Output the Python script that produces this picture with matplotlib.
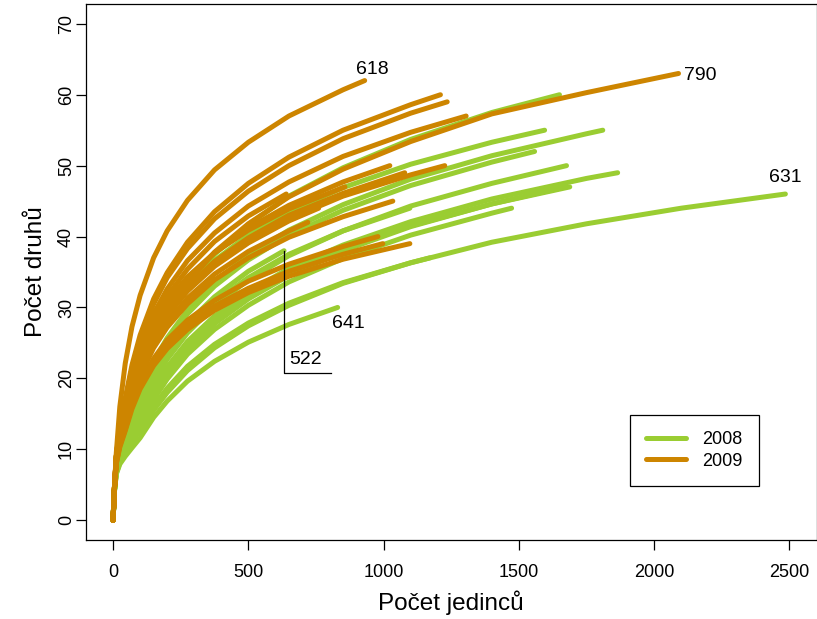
import matplotlib
matplotlib.use("Agg")
import matplotlib.pyplot as plt

plt.rcParams['font.family'] = ['Liberation Sans', 'DejaVu Sans']

grid = [0, 5, 12, 25, 45, 70, 100, 150, 200, 275, 375, 500, 650, 850,
        1100, 1400, 1750, 2100]

# 2008 samples: end point (individuals, species) + species at grid points
end_2008 = [(2485, 46), (1650, 60), (1595, 55), (1810, 55), (1558, 52),
            (1676, 50), (1865, 49), (1688, 47), (1670, 47), (1473, 44),
            (830, 30), (1171, 37), (632, 38), (1097, 44)]
rich_2008 = [
    [0, 4.2, 6.8, 8.3, 9.8, 11.2, 12.7, 15.5, 18.0, 21.1, 24.3, 27.4, 30.3, 33.4, 36.3, 39.2, 41.8, 44.0],
    [0, 4.3, 7.8, 10.5, 13, 16.2, 20.1, 25.0, 28.7, 33.1, 37.5, 41.7, 45.7, 49.7, 53.7, 57.5],
    [0, 4.3, 7.8, 10.5, 13.6, 17.6, 21.2, 25.7, 29.0, 32.8, 36.6, 40.2, 43.5, 46.9, 50.2, 53.3],
    [0, 4.2, 7.5, 9.8, 11.5, 14.5, 18.0, 22.4, 25.7, 29.6, 33.6, 37.4, 40.9, 44.5, 48.1, 51.4, 54.5],
    [0, 4.2, 7.5, 9.7, 11.3, 14.3, 17.7, 22.0, 25.3, 29.1, 33.0, 36.7, 40.2, 43.7, 47.2, 50.5],
    [0, 4.2, 7.2, 9, 10.5, 13, 15.5, 19.6, 22.7, 26.4, 30.2, 33.9, 37.3, 40.8, 44.3, 47.5],
    [0, 4.2, 7, 8.8, 10.2, 12.6, 14.8, 18.6, 21.6, 25.2, 28.8, 32.2, 35.5, 38.8, 42.1, 45.3, 48.2],
    [0, 4.2, 7, 8.7, 10, 12.4, 14.6, 18.4, 21.3, 24.8, 28.4, 31.8, 35.0, 38.3, 41.5, 44.6],
    [0, 4.1, 6.8, 8.5, 9.8, 11.8, 13.7, 17.5, 20.5, 24.0, 27.7, 31.2, 34.5, 38.0, 41.4, 44.6],
    [0, 4.1, 6.8, 8.4, 9.6, 11.5, 13.3, 17.0, 19.9, 23.4, 26.9, 30.3, 33.6, 36.9, 40.2, 43.3],
    [0, 4, 6.5, 7.9, 9, 10.2, 11.6, 14.5, 16.8, 19.6, 22.4, 25.1, 27.6],
    [0, 4, 6.6, 8.1, 9.3, 10.9, 12.8, 16.1, 18.6, 21.7, 24.8, 27.8, 30.6, 33.5, 36.3],
    [0, 4.2, 7.5, 9.5, 11, 13.6, 16.9, 21.0, 24.1, 27.8, 31.5, 35.1],
    [0, 4.2, 7.5, 9.5, 10.8, 13.3, 16.5, 20.5, 23.6, 27.1, 30.8, 34.2, 37.5, 40.8],
]

# 2009 samples
end_2009 = [(930, 62), (1210, 60), (1235, 59), (1305, 57), (2090, 63),
            (1226, 50), (1078, 49), (1023, 50), (857, 47), (1034, 45),
            (979, 40), (997, 39), (1097, 39), (760, 44), (720, 42), (640, 46)]
rich_2009 = [
    [0, 4.6, 9.5, 16.0, 22.1, 27.3, 31.7, 37.0, 40.8, 45.1, 49.4, 53.3, 57.0, 60.7],
    [0, 4.5, 9, 13.5, 17.2, 21.9, 26.1, 31.2, 34.9, 39.2, 43.5, 47.5, 51.2, 55.0, 58.6],
    [0, 4.5, 9, 13, 16.8, 21.4, 25.5, 30.5, 34.2, 38.3, 42.5, 46.4, 50.0, 53.8, 57.4],
    [0, 4.5, 9, 12.5, 16.0, 20.4, 24.4, 29.1, 32.6, 36.6, 40.5, 44.3, 47.7, 51.3, 54.7],
    [0, 4.4, 8.5, 12.3, 15.4, 18.5, 21.2, 25.7, 29.3, 33.5, 37.8, 41.8, 45.6, 49.5, 53.4, 57.3, 60.3],
    [0, 4.5, 8.8, 12, 14.3, 18.2, 21.7, 25.9, 29.0, 32.6, 36.1, 39.4, 42.5, 45.7, 48.7],
    [0, 4.5, 8.8, 12, 14.4, 18.4, 21.9, 26.2, 29.3, 32.9, 36.5, 39.8, 43.0, 46.1],
    [0, 4.5, 9, 12.5, 14.9, 19.0, 22.7, 27.1, 30.3, 34.0, 37.7, 41.2, 44.4, 47.7],
    [0, 4.5, 9, 12.5, 16.0, 20.1, 23.6, 27.7, 30.8, 34.3, 37.7, 40.9, 43.9],
    [0, 4.5, 8.5, 11.5, 13.4, 17.1, 20.3, 24.3, 27.2, 30.5, 33.9, 37.0, 39.9, 42.8],
    [0, 4.4, 8.2, 10.8, 13.2, 16.5, 19.4, 22.8, 25.4, 28.2, 31.0, 33.7, 36.1, 38.6],
    [0, 4.4, 8, 10.5, 12.8, 16.1, 18.9, 22.2, 24.7, 27.4, 30.2, 32.7, 35.1, 37.5],
    [0, 4.3, 8, 10.3, 12.6, 15.7, 18.5, 21.8, 24.2, 26.9, 29.6, 32.1, 34.4, 36.8],
    [0, 4.5, 8.8, 12, 14.2, 18.1, 21.5, 25.7, 28.8, 32.3, 35.8, 39.1, 42.2],
    [0, 4.5, 8.5, 11.5, 13.7, 17.5, 20.8, 24.9, 27.9, 31.3, 34.7, 37.9, 40.8],
    [0, 4.5, 9, 12.5, 15.5, 19.8, 23.6, 28.2, 31.6, 35.4, 39.3, 42.9],
]

# sample labels written next to some curve ends
labels = ['618', '790', '631', '641', '522']
label_x = [960, 2110, 2485, 868, 713]
label_y = [63.5, 62.7, 48.3, 27.8, 22.6]

col_2008 = '#9ACD32'
col_2009 = '#CD8500'

fig = plt.figure(figsize=(8.17, 6.19), dpi=100)
ax = fig.add_axes([86 / 817, 1 - 540 / 619, 730.5 / 817, 536 / 619])

for (n_end, s_end), vals in zip(end_2008, rich_2008):
    xs = grid[:len(vals)] + [n_end]
    ys = vals + [s_end]
    ax.plot(xs, ys, color=col_2008, lw=3.6, solid_capstyle='round',
            solid_joinstyle='round')

for (n_end, s_end), vals in zip(end_2009, rich_2009):
    xs = grid[:len(vals)] + [n_end]
    ys = vals + [s_end]
    ax.plot(xs, ys, color=col_2009, lw=3.6, solid_capstyle='round',
            solid_joinstyle='round')

for lab, lx, ly in zip(labels, label_x, label_y):
    ha = 'left' if lab == '790' else 'center'
    ax.text(lx, ly, lab, fontsize=14, ha=ha, va='center')

# pointer line for sample 522 hidden in the bundle
ax.plot([632, 632, 805], [38, 20.7, 20.7], color='black', lw=0.9)

ax.set_xlim(-100, 2600)
ax.set_ylim(-2.8, 72.8)
ax.set_xticks(range(0, 2501, 500))
ax.set_yticks(range(0, 71, 10))
ax.tick_params(labelsize=13, length=7, width=0.9)
ax.tick_params(axis='x', pad=10)
ax.tick_params(axis='y', pad=1)
for lab in ax.get_yticklabels():
    lab.set_rotation(90)
    lab.set_va('center')
for sp in ax.spines.values():
    sp.set_linewidth(0.9)

ax.set_xlabel('Počet jedinců', fontsize=17.5, labelpad=7)
ax.set_ylabel('Počet druhů', fontsize=17.5, labelpad=8)

ax.plot([], [], color=col_2008, lw=3.6, label='2008', solid_capstyle='round')
ax.plot([], [], color=col_2009, lw=3.6, label='2009', solid_capstyle='round')
leg = ax.legend(loc='upper left', bbox_to_anchor=(0.7447, 0.2332),
                borderaxespad=0, fontsize=13, frameon=True, fancybox=False,
                edgecolor='black', framealpha=1, handlelength=2.2,
                handletextpad=0.9, labelspacing=0.25, borderpad=0.9)
leg.get_frame().set_linewidth(0.9)

fig.savefig('out.png', dpi=100)
